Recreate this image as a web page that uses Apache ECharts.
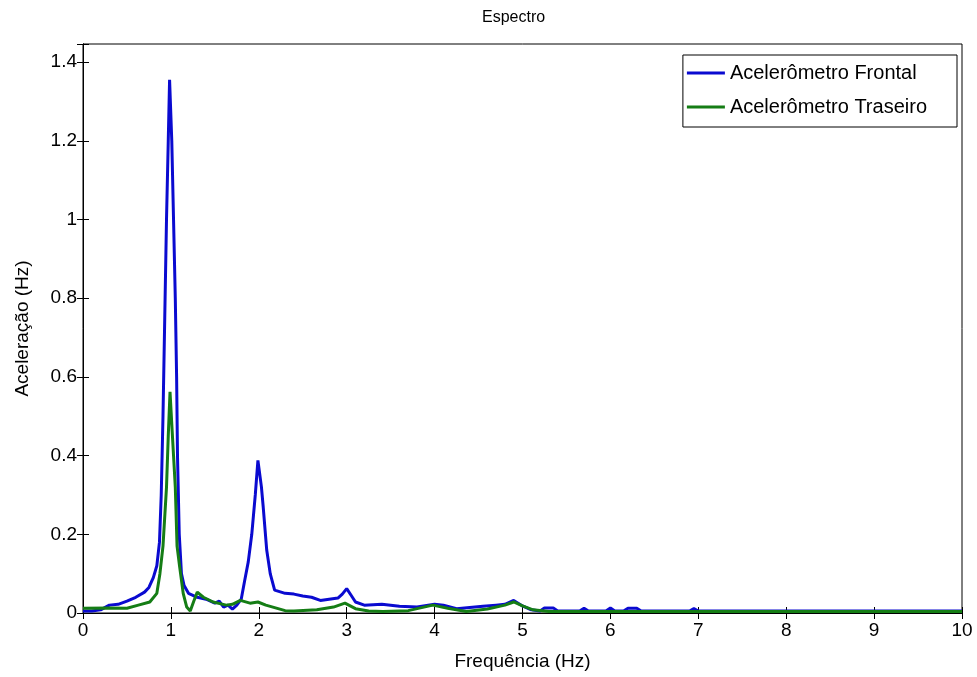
<!DOCTYPE html>
<html>
<head>
<meta charset="utf-8">
<script src="https://cdn.jsdelivr.net/npm/echarts@6/dist/echarts.min.js"></script>
<style>html,body{margin:0;padding:0;background:#fff;}#c{width:977px;height:677px;}</style>
</head>
<body>
<div id="c"></div>
<script>
// Frequências (Hz) e acelerações
var freqFrontal = [0,0.1,0.2,0.3,0.4,0.5,0.6,0.7,0.75,0.8,0.84,0.87,0.89,0.91,0.93,0.95,0.97,0.985,1.0,1.01,1.03,1.05,1.065,1.075,1.095,1.12,1.15,1.2,1.25,1.3,1.4,1.5,1.55,1.6,1.65,1.7,1.75,1.8,1.84,1.88,1.92,1.96,1.99,2.01,2.03,2.05,2.09,2.13,2.18,2.3,2.4,2.5,2.6,2.7,2.8,2.9,2.95,3.0,3.05,3.1,3.2,3.4,3.6,3.8,4.0,4.1,4.25,4.4,4.55,4.7,4.8,4.9,5.0,5.1,5.2,5.25,5.35,5.4,5.65,5.7,5.75,5.95,6.0,6.05,6.15,6.2,6.3,6.35,6.9,6.95,7.0,10];
var accFrontal  = [0.005,0.005,0.008,0.02,0.022,0.03,0.04,0.053,0.065,0.09,0.12,0.18,0.3,0.5,0.75,1.0,1.2,1.355,1.355,1.2,1.0,0.8,0.6,0.4,0.2,0.1,0.07,0.05,0.045,0.04,0.035,0.025,0.03,0.015,0.02,0.01,0.02,0.035,0.083,0.13,0.2,0.3,0.388,0.388,0.32,0.27,0.16,0.1,0.058,0.05,0.048,0.043,0.04,0.032,0.035,0.038,0.048,0.062,0.045,0.028,0.02,0.022,0.017,0.015,0.022,0.02,0.011,0.014,0.017,0.02,0.022,0.032,0.018,0.008,0.005,0.013,0.013,0.005,0.005,0.012,0.005,0.005,0.013,0.005,0.005,0.012,0.012,0.005,0.005,0.011,0.005,0.005];
var freqTraseiro = [0,0.3,0.5,0.63,0.76,0.84,0.875,0.91,0.95,0.97,0.99,1.01,1.03,1.05,1.07,1.1,1.14,1.18,1.22,1.26,1.3,1.37,1.48,1.63,1.7,1.79,1.9,1.99,2.08,2.16,2.3,2.4,2.66,2.85,2.98,3.1,3.25,3.41,3.7,3.98,4.15,4.36,4.6,4.8,4.9,5.0,5.12,5.3,10];
var accTraseiro  = [0.012,0.013,0.012,0.02,0.028,0.05,0.1,0.17,0.32,0.45,0.562,0.48,0.4,0.32,0.17,0.117,0.05,0.015,0.005,0.03,0.053,0.04,0.028,0.02,0.022,0.032,0.025,0.028,0.02,0.015,0.006,0.005,0.008,0.015,0.025,0.011,0.005,0.004,0.006,0.02,0.012,0.004,0.01,0.02,0.028,0.018,0.008,0.004,0.004];
var yTicks = [0,0.2,0.4,0.6,0.8,1,1.2,1.4];
var xTicks = [0,1,2,3,4,5,6,7,8,9,10];

function pairs(xs, ys){ return xs.map(function(x,i){ return [x, ys[i]]; }); }
var FONT = 'Liberation Sans';
var chart = echarts.init(document.getElementById('c'));
var yMax = 1.446;
function yFmt(v){ for (var i=0;i<yTicks.length;i++){ if (Math.abs(v-yTicks[i])<1e-6) return String(yTicks[i]); } return ''; }
function xFmt(v){ for (var i=0;i<xTicks.length;i++){ if (Math.abs(v-xTicks[i])<1e-6) return String(xTicks[i]); } return ''; }
var tickStyle = {show:true, inside:true, length:6, lineStyle:{color:'#000', width:1}};
chart.setOption({
  animation:false,
  backgroundColor:'#fff',
  title:{text:'Espectro', left:477, top:5, textStyle:{fontFamily:FONT, fontSize:16, fontWeight:'normal', color:'#000'}},
  grid:{left:83, right:15, top:44, bottom:64, show:true, borderColor:'#000', borderWidth:1, backgroundColor:'#fff'},
  legend:{
    orient:'vertical', right:20, top:55,
    backgroundColor:'#fff', borderColor:'#000', borderWidth:1,
    padding:[7,30,9,4], itemGap:12, itemWidth:38, itemHeight:3, icon:'rect',
    textStyle:{fontFamily:FONT, fontSize:20, color:'#000', lineHeight:22},
    data:['Acelerômetro Frontal','Acelerômetro Traseiro']
  },
  xAxis:[
    {type:'value', min:0, max:10, interval:1, position:'bottom',
     name:'Frequência (Hz)', nameLocation:'middle', nameGap:39,
     nameTextStyle:{fontFamily:FONT, fontSize:19, color:'#000'},
     axisLine:{show:true, lineStyle:{color:'#000'}}, axisTick:tickStyle,
     axisLabel:{fontFamily:FONT, fontSize:19, color:'#000', margin:8, formatter:xFmt},
     splitLine:{show:false}},
    {type:'value', min:0, max:10, interval:1, position:'top',
     axisLine:{show:true, lineStyle:{color:'#000'}}, axisTick:tickStyle,
     axisLabel:{show:false}, splitLine:{show:false}}
  ],
  yAxis:[
    {type:'value', min:0, max:yMax, interval:0.2, position:'left',
     name:'Aceleração (Hz)', nameLocation:'middle', nameGap:51, nameRotate:90,
     nameTextStyle:{fontFamily:FONT, fontSize:19, color:'#000'},
     axisLine:{show:true, lineStyle:{color:'#000'}}, axisTick:tickStyle,
     axisLabel:{fontFamily:FONT, fontSize:19, color:'#000', margin:6, formatter:yFmt},
     splitLine:{show:false}},
    {type:'value', min:0, max:yMax, interval:0.2, position:'right',
     axisLine:{show:true, lineStyle:{color:'#000'}}, axisTick:tickStyle,
     axisLabel:{show:false}, splitLine:{show:false}}
  ],
  series:[
    {name:'Acelerômetro Frontal', type:'line', xAxisIndex:0, yAxisIndex:0, data:pairs(freqFrontal, accFrontal),
     showSymbol:false, symbol:'none', lineStyle:{color:'#0a0ad0', width:3}, itemStyle:{color:'#0a0ad0'}},
    {name:'Acelerômetro Traseiro', type:'line', xAxisIndex:0, yAxisIndex:0, data:pairs(freqTraseiro, accTraseiro),
     showSymbol:false, symbol:'none', lineStyle:{color:'#157d15', width:3}, itemStyle:{color:'#157d15'}}
  ]
});
</script>
</body>
</html>
